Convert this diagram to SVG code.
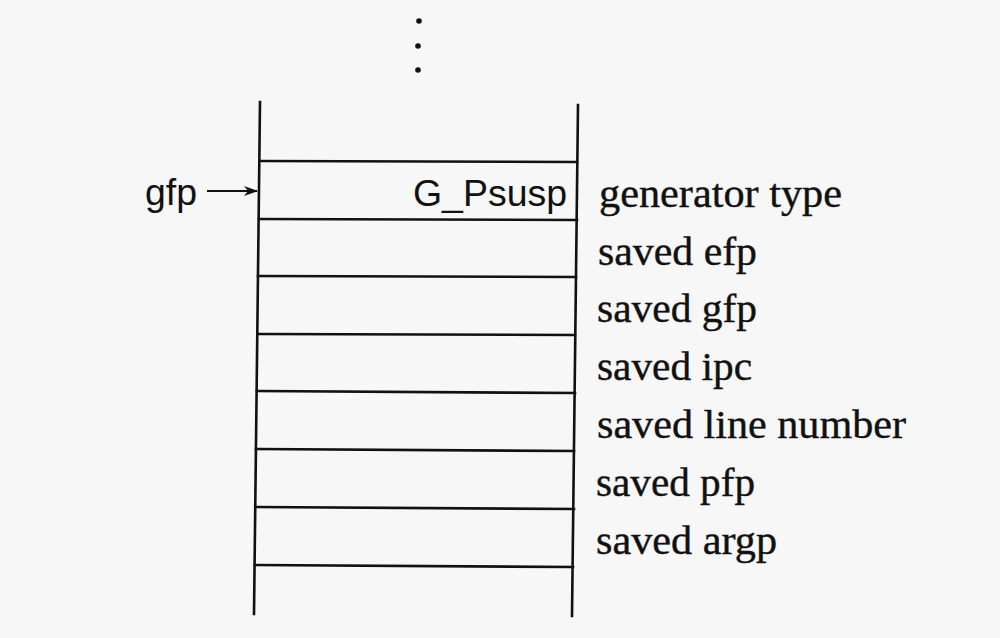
<svg xmlns="http://www.w3.org/2000/svg" width="1000" height="638" viewBox="0 0 1000 638">
<defs>
<style>
.ln{stroke:#111;stroke-width:2.6;fill:none;stroke-linecap:square}
.thin{stroke:#111;stroke-width:1.8;fill:none}
.sans{font-family:"Liberation Sans",Arial,sans-serif;font-size:36px;fill:#111}
.serif{font-family:"Liberation Serif","Times New Roman",serif;font-size:41px;fill:#111;stroke:#111;stroke-width:0.4}
</style>
<marker id="ah" markerWidth="14" markerHeight="10" refX="13" refY="5" orient="auto" markerUnits="userSpaceOnUse">
<path d="M0,0 L14,5 L0,10 L4,5 Z" fill="#111"/>
</marker>
</defs>
<rect width="1000" height="638" fill="#f7f7f7"/>
<g id="ellipsis" fill="#111">
<circle cx="419" cy="21" r="2.8"/>
<circle cx="418" cy="46" r="2.8"/>
<circle cx="418" cy="70" r="2.8"/>
</g>
<g id="stack">
<line class="ln" x1="260" y1="102" x2="254" y2="614"/>
<line class="ln" x1="578" y1="105" x2="572" y2="616"/>
<line class="ln" x1="260" y1="161" x2="577" y2="162"/>
<line class="ln" x1="259" y1="219" x2="577" y2="220"/>
<line class="ln" x1="258" y1="276" x2="576" y2="277"/>
<line class="ln" x1="258" y1="334" x2="575" y2="335"/>
<line class="ln" x1="257" y1="391" x2="575" y2="393"/>
<line class="ln" x1="256" y1="449" x2="574" y2="451"/>
<line class="ln" x1="256" y1="507" x2="574" y2="509"/>
<line class="ln" x1="255" y1="565" x2="573" y2="567"/>
</g>
<g id="slot-type">
<text class="sans" x="567" y="206" text-anchor="end" textLength="154" lengthAdjust="spacingAndGlyphs">G_Psusp</text>
</g>
<g id="pointer-gfp">
<text class="sans" x="145" y="205" textLength="52" lengthAdjust="spacingAndGlyphs">gfp</text>
</g>
<g id="connectors">
<line class="thin" x1="207" y1="191" x2="257" y2="191" marker-end="url(#ah)"/>
</g>
<g id="labels">
<text class="serif" x="599" y="207" textLength="243" lengthAdjust="spacingAndGlyphs">generator type</text>
<text class="serif" x="598" y="265" textLength="159" lengthAdjust="spacingAndGlyphs">saved efp</text>
<text class="serif" x="597" y="322" textLength="160" lengthAdjust="spacingAndGlyphs">saved gfp</text>
<text class="serif" x="597" y="380" textLength="155" lengthAdjust="spacingAndGlyphs">saved ipc</text>
<text class="serif" x="597" y="438" textLength="309" lengthAdjust="spacingAndGlyphs">saved line number</text>
<text class="serif" x="596" y="496" textLength="159" lengthAdjust="spacingAndGlyphs">saved pfp</text>
<text class="serif" x="596" y="554" textLength="181" lengthAdjust="spacingAndGlyphs">saved argp</text>
</g>
</svg>
